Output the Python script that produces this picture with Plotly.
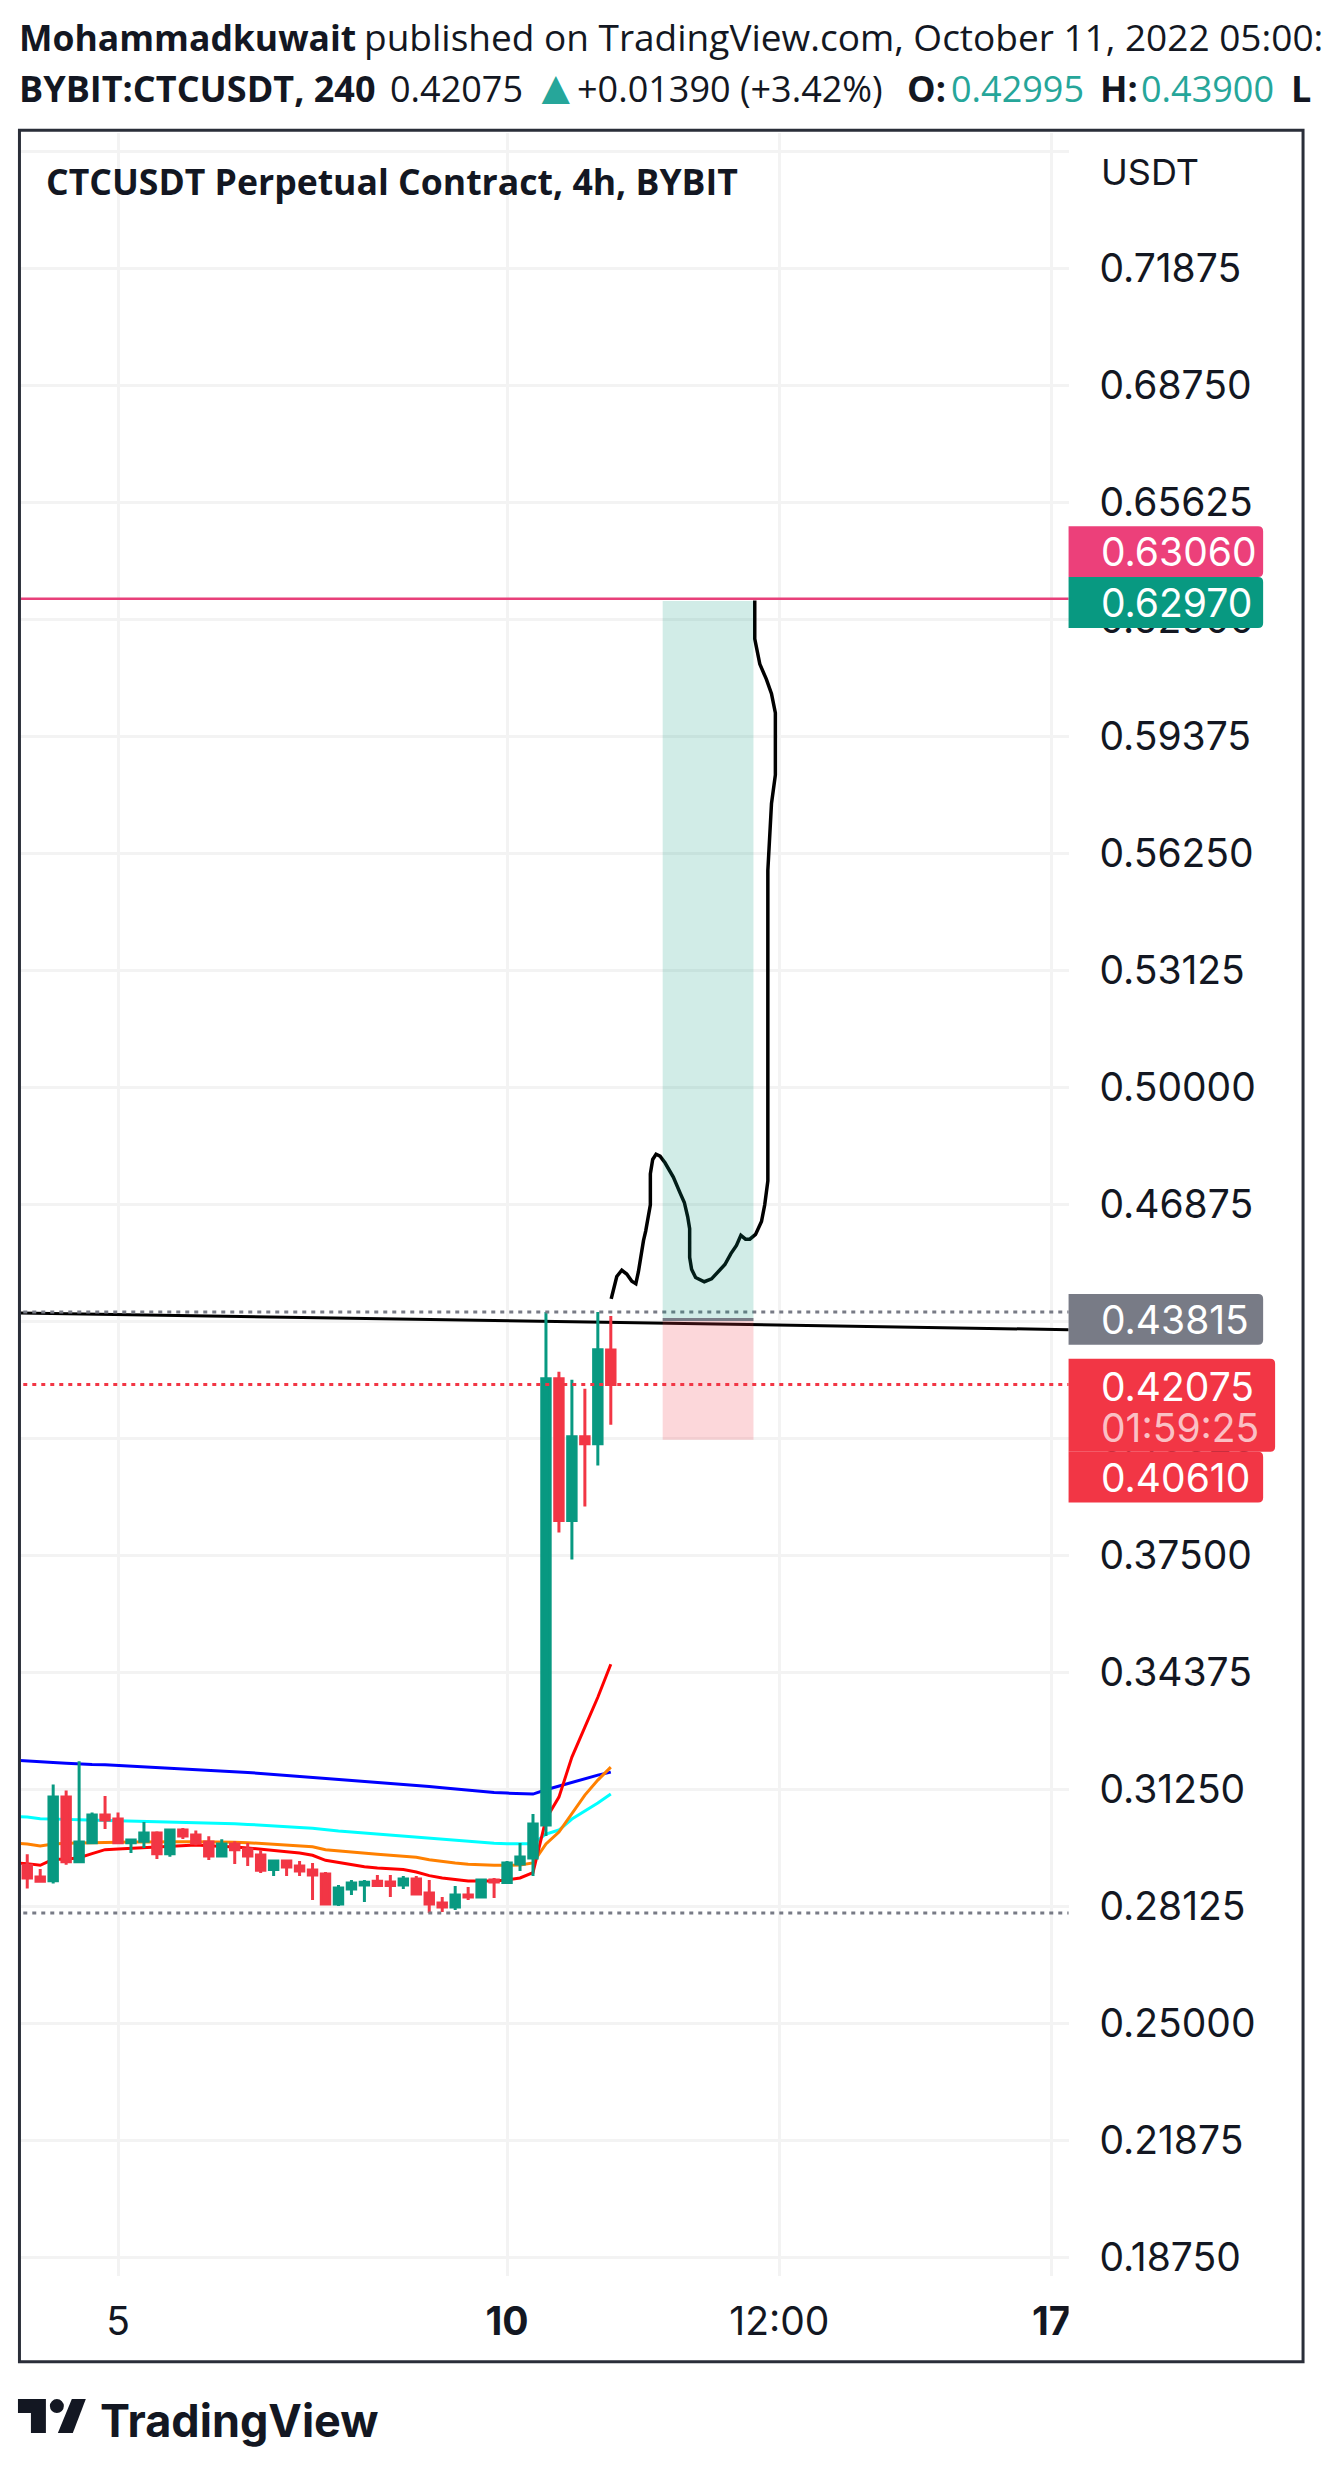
import plotly.graph_objects as go

# 4h bars, index 0 is the first candle on the chart
bar_index = list(range(46))
opens = [.29231, .2892, .28822, .31053, .29329, .29836, .30573, .30467, .29836, .29871, .30093, .29542, .30173, .3004, .29853, .2948,
         .298, .29667, .29507, .29116, .29347, .29213, .29107, .29, .282, .286, .28707, .28804, .28787, .28707, .28867, .28493,
         .28227, .2812, .2844, .28387, .2884, .28769, .29267, .29427, .30307, .42227, .3844, .4068, .40493, .42995]
highs = [.29524, .29133, .31391, .31231, .32013, .30644, .3108, .30644, .29924, .30387, .30138, .302, .30227, .30164, .30004, .29924,
         .29871, .29827, .29631, .29347, .29347, .29347, .29293, .29053, .28707, .2884, .2884, .28973, .28973, .28947, .28947, .2884,
         .28387, .2868, .28653, .2884, .28893, .29347, .29827, .306, .44013, .42413, .422, .4196, .44013, .439]
lows = [.28609, .28769, .28742, .29249, .29329, .29836, .302, .29836, .2956, .29693, .294, .29462, .29933, .29764, .29373, .2948,
        .29267, .29213, .29027, .28947, .28947, .28947, .28307, .28182, .28147, .2844, .28253, .28653, .28387, .286, .28467, .2796,
        .27987, .2804, .28307, .2836, .2836, .28769, .2908, .28947, .30013, .3812, .374, .38813, .39907, .41]
closes = [.28893, .28804, .31053, .29329, .29853, .30573, .3044, .29836, .29907, .30093, .29542, .30173, .30013, .29818, .2948, .298,
          .29649, .2948, .29098, .29347, .29187, .2908, .28973, .282, .28627, .2876, .28778, .28689, .28689, .28867, .28467, .282,
          .2812, .2844, .28387, .2884, .28787, .29293, .29453, .30333, .42227, .3844, .4068, .40493, .43, .42075]

# moving averages start one bar before the left edge
ma_index = list(range(-1, 46))
ma_blue = [.3204, .32013, .31987, .31978, .3196, .31933, .31924, .31916, .31898, .3188, .31871, .31853, .31836, .31818, .318, .31782,
           .31747, .31729, .31711, .31684, .31658, .31631, .31604, .31569, .31542, .31524, .31498, .3148, .31453, .31427, .31391, .31364,
           .31338, .31302, .31267, .31231, .31204, .31178, .3116, .31142, .31133, .31249, .31347, .31453, .3156, .3164, .3172]
ma_red = [.29293, .29276, .29231, .29391, .29391, .29435, .29542, .29649, .29667, .29684, .29711, .2972, .29747, .29764, .29773, .29756,
          .29747, .2972, .29693, .29667, .29631, .29596, .2956, .29498, .29364, .29302, .2924, .29195, .2916, .29133, .29116, .29053,
          .28956, .28893, .28849, .28813, .28813, .28813, .2884, .28893, .29036, .30467, .31053, .3212, .3292, .3372, .346]
ma_orange = [.29827, .298, .29747, .298, .29818, .29827, .29836, .29853, .29853, .29853, .29853, .29862, .29862, .29862, .29862, .29862,
             .29853, .29844, .29836, .29818, .298, .29782, .29756, .29729, .29649, .29613, .29578, .29551, .29524, .29498, .29471, .29444,
             .29382, .29329, .29293, .29258, .2924, .29231, .29231, .2924, .29293, .298, .3012, .306, .31107, .31507, .31853]
ma_cyan = [.30538, .3052, .30476, .30476, .30458, .30449, .3044, .30431, .30431, .30422, .30422, .30413, .30404, .30396, .30378, .30369,
           .3036, .30342, .30324, .30307, .30289, .30271, .30244, .30218, .30173, .30147, .3012, .30093, .30067, .3004, .30013, .29987,
           .29951, .29916, .29889, .29862, .29836, .29818, .29809, .298, .29809, .30067, .30173, .30467, .3068, .30893, .31133]

# the hand drawn path
sketch_x = [45.03, 45.21, 45.46, 45.85, 46.23, 46.62, 46.93, 47.13, 47.34, 47.52, 47.69, 47.9, 48.05, 48.05, 48.23, 48.49, 48.8,
            49.18, 49.82, 50.34, 50.67, 50.93, 51.08, 51.08, 51.23, 51.54, 52.21, 52.77, 53.28, 53.8, 54.26, 54.69, 55.03, 55.39,
            55.72, 56.16, 56.62, 56.87, 57.11, 57.11, 57.39, 57.54, 57.69, 57.69, 57.39, 57.0, 56.49, 56.1, 56.1]
sketch_y = [.44359, .4464, .44959, .45125, .45023, .44831, .44767, .45086, .45597, .45916, .46171, .46554, .46873, .47702, .48085,
            .48225, .48174, .47996, .47613, .47192, .46936, .46554, .46235, .45469, .4515, .44933, .44818, .44895, .45086, .45278,
            .45571, .45788, .46056, .45954, .45954, .46082, .46426, .46873, .47511, .55804, .5759, .57973, .58356, .60014, .60525,
            .60908, .61316, .61992, .63013]

# levels and position tool
edges = [-1, 81]
top_target = 0.6306
trend_y = [0.43987, 0.43533]
high_dots = 0.44013
low_dots = 0.2796
last_close = 0.42075
pos_x = [49, 56]
pos_target = 0.63
pos_entry = 0.4381
pos_stop = 0.406

price_ticks = [.75, .71875, .6875, .65625, .625, .59375, .5625, .53125, .5, .46875, .4375, .40625, .375, .34375, .3125, .28125,
               .25, .21875, .1875]
price_labels = ["", "0.71875", "0.68750", "0.65625", "0.62500", "0.59375", "0.56250", "0.53125", "0.50000", "0.46875", "0.43750",
                "0.40625", "0.37500", "0.34375", "0.31250", "0.28125", "0.25000", "0.21875", "0.18750"]
time_ticks = [7, 37, 58, 79]
time_labels = ["5", "<b>10</b>", "12:00", "<b>17</b>"]

W, H = 1326, 2475
GREEN, RED, GREY, PINK, INK = "#089981", "#F23645", "#787B86", "#EC407A", "#131722"
GRID = "#F3F3F3"
x_range = [-0.485, 80.3]
y_range = [0.18253, 0.75507]


def px(x):
    return x / W


def py(y):
    return 1 - y / H


def tag_path(x0, y0, x1, y1, r=5):
    # label box, rounded on the right only
    a, b, c, d = px(x0), py(y0), px(x1), py(y1)
    rx, ry = r / W, r / H
    return (f"M{a},{b} L{c - rx},{b} Q{c},{b} {c},{b - ry} L{c},{d + ry} Q{c},{d} {c - rx},{d} L{a},{d} Z")


def text(x, y, s, size=36, color=INK, font="Open Sans"):
    return dict(xref="paper", yref="paper", x=px(x), y=py(y), text=s, showarrow=False, xanchor="left", yanchor="middle",
                font=dict(family=font, size=size, color=color), borderpad=0, borderwidth=0)


fig = go.Figure()

# lines under the candles sit on the base axes
for values, colour in [(ma_blue, "#0000FF"), (ma_cyan, "#00FFFF"), (ma_orange, "#FF8000"), (ma_red, "#FF0000")]:
    fig.add_trace(go.Scatter(x=ma_index, y=values, mode="lines", line=dict(color=colour, width=3)))
fig.add_trace(go.Scatter(x=edges, y=trend_y, mode="lines", line=dict(color="#000000", width=3)))
fig.add_trace(go.Scatter(x=edges, y=[top_target, top_target], mode="lines", line=dict(color="#E8407A", width=2.5)))
fig.add_trace(go.Scatter(x=sketch_x, y=sketch_y, mode="lines", line=dict(color="#000000", width=3.5)))

fig.add_trace(go.Candlestick(x=bar_index, open=opens, high=highs, low=lows, close=closes, xaxis="x2", yaxis="y2",
                             increasing=dict(line=dict(color=GREEN, width=3), fillcolor=GREEN),
                             decreasing=dict(line=dict(color=RED, width=3), fillcolor=RED)))
for level, colour in [(high_dots, GREY), (low_dots, GREY), (last_close, RED)]:
    fig.add_trace(go.Scatter(x=edges, y=[level, level], mode="lines", xaxis="x2", yaxis="y2",
                             line=dict(color=colour, width=3, dash="4px,5px")))

shapes = [
    dict(type="rect", x0=pos_x[0], x1=pos_x[1], y0=pos_entry, y1=pos_target, xref="x", yref="y", layer="above",
         fillcolor="rgba(8,153,129,0.19)", line=dict(width=0)),
    dict(type="rect", x0=pos_x[0], x1=pos_x[1], y0=pos_stop, y1=pos_entry, xref="x", yref="y", layer="above",
         fillcolor="rgba(242,54,69,0.2)", line=dict(width=0)),
    dict(type="line", x0=pos_x[0], x1=pos_x[1], y0=pos_entry, y1=pos_entry, xref="x", yref="y", layer="above",
         line=dict(color=GREY, width=3)),
    # frame
    dict(type="rect", xref="paper", yref="paper", x0=px(19.5), x1=px(1306), y0=py(130.5), y1=py(2365.5), line=dict(color="#2A2E39", width=3)),
    # hides the part of the last time label past the pane
    dict(type="rect", xref="paper", yref="paper", x0=px(1071), x1=px(1130), y0=py(2290), y1=py(2355), fillcolor="white", line=dict(width=0), layer="above"),
    # price tags
    dict(type="path", xref="paper", yref="paper", path=tag_path(1071, 527, 1266, 578), fillcolor=PINK, line=dict(width=0), layer="above"),
    dict(type="path", xref="paper", yref="paper", path=tag_path(1071, 578, 1266, 629), fillcolor=GREEN, line=dict(width=0), layer="above"),
    dict(type="path", xref="paper", yref="paper", path=tag_path(1071, 1296, 1266, 1347), fillcolor=GREY, line=dict(width=0), layer="above"),
    dict(type="path", xref="paper", yref="paper", path=tag_path(1071, 1361, 1278, 1454), fillcolor=RED, line=dict(width=0), layer="above"),
    dict(type="path", xref="paper", yref="paper", path=tag_path(1071, 1454, 1266, 1505), fillcolor=RED, line=dict(width=0), layer="above"),
    # TradingView mark
    dict(type="path", xref="paper", yref="paper", fillcolor=INK, line=dict(width=0),
         path=f"M{px(18)},{py(2403)} L{px(46)},{py(2403)} L{px(46)},{py(2437)} L{px(31)},{py(2437)} L{px(31)},{py(2417)} L{px(18)},{py(2417)} Z"),
    dict(type="circle", xref="paper", yref="paper", x0=px(50), x1=px(64), y0=py(2403), y1=py(2417), fillcolor=INK, line=dict(width=0)),
    dict(type="path", xref="paper", yref="paper", fillcolor=INK, line=dict(width=0),
         path=f"M{px(72)},{py(2403)} L{px(86)},{py(2403)} L{px(73)},{py(2437)} L{px(58)},{py(2437)} Z"),
]

annotations = [
    text(19, 37, "<b>Mohammadkuwait</b>", size=35.5),
    text(365, 37, "published on TradingView.com, October 11, 2022 05:00:", size=37),
    text(19, 89, "<b>BYBIT:CTCUSDT, 240</b>"),
    text(391, 89, "0.42075"),
    text(533, 86, "▲", color="#26A69A", size=48),
    text(578, 89, "+0.01390 (+3.42%)"),
    text(909, 89, "<b>O:</b>"),
    text(953, 89, "0.42995", color="#26A69A"),
    text(1102, 89, "<b>H:</b>"),
    text(1144, 89, "0.43900", color="#26A69A"),
    text(1294, 89, "<b>L</b>"),
    text(46, 181, "<b>CTCUSDT Perpetual Contract, 4h, BYBIT</b>", size=35.6),
    text(1103, 172, "USDT", font="Inter"),
    text(1103, 552, "0.63060", color="white", font="Inter", size=39),
    text(1103, 603, "0.62970", color="white", font="Inter", size=39),
    text(1103, 1322, "0.43815", color="white", font="Inter", size=39),
    text(1103, 1389, "0.42075", color="white", font="Inter", size=39),
    text(1103, 1430, "01:59:25", color="rgba(255,255,255,0.7)", font="Inter", size=39),
    text(1103, 1480, "0.40610", color="white", font="Inter", size=39),
    text(100, 2424, "<b>TradingView</b>", size=45, font="Inter"),
]

fig.update_layout(
    width=W, height=H,
    margin=dict(l=0, r=0, t=0, b=0),
    paper_bgcolor="white", plot_bgcolor="white",
    showlegend=False,
    boxgap=0.35, boxgroupgap=0,
    shapes=shapes, annotations=annotations,
    xaxis=dict(domain=[px(21), px(1071)], range=x_range, tickmode="array", tickvals=time_ticks, ticktext=time_labels,
               showgrid=True, gridcolor=GRID, gridwidth=3, zeroline=False, showline=False,
               ticks="outside", ticklen=11, tickcolor="rgba(0,0,0,0)", rangeslider=dict(visible=False),
               tickfont=dict(family="Inter", size=39, color=INK)),
    yaxis=dict(domain=[py(2280), py(133)], range=y_range, side="right", tickmode="array", tickvals=price_ticks, ticktext=price_labels,
               showgrid=True, gridcolor=GRID, gridwidth=3, zeroline=False, showline=False,
               ticks="outside", ticklen=22, tickcolor="rgba(0,0,0,0)",
               tickfont=dict(family="Inter", size=39, color=INK)),
    xaxis2=dict(domain=[px(21), px(1071)], range=x_range, overlaying="x", anchor="y2", visible=False, rangeslider=dict(visible=False)),
    yaxis2=dict(domain=[py(2280), py(133)], range=y_range, overlaying="y", anchor="x2", visible=False),
)

fig.write_html("out.html", post_script="document.body.style.margin='0';", config=dict(displayModeBar=False))
